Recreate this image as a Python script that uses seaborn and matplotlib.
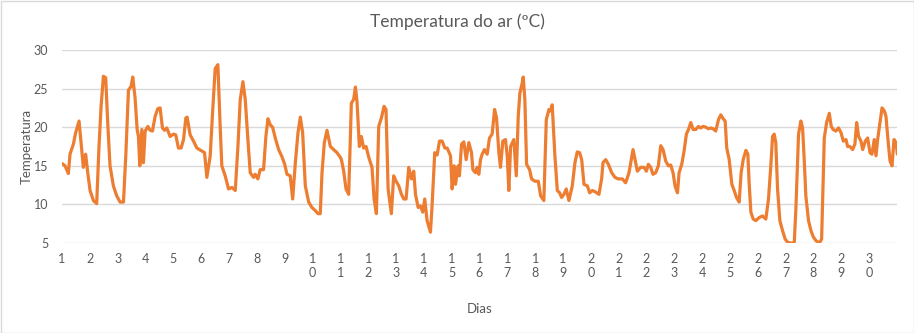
import matplotlib
matplotlib.use("Agg")
import matplotlib.pyplot as plt
import seaborn as sns
import pandas as pd
from matplotlib.patches import Rectangle

# hours since start of day 1, and air temperature (ºC)
horas = [
    0, 2.6, 5.5, 6.9, 9.8, 11.8, 14.7, 17.0, 18.4, 20.4, 22.2, 24.2, 27.1, 29.9, 31.9, 33.7,
    35.7, 37.7, 39.4, 41.4, 44.3, 47.2, 50.1, 53.0, 55.0, 57.3, 59.6, 61.0, 63.0, 64.8, 65.9,
    67.1, 68.8, 70.2, 71.7, 74.0, 76.0, 78.0, 80.3, 82.6, 84.6, 86.6, 88.4, 90.4, 93.2, 96.1,
    98.1, 100.4, 102.7, 104.8, 106.8, 107.9, 110.5, 113.4, 116.3,
    120.6, 122.9, 124.9, 127.8, 129.8, 132.1, 134.4, 136.4, 137.8, 140.7, 143.6, 146.5, 149.4,
    151.7, 153.7, 156.0, 158.0, 160.3, 162.3, 165.2, 166.6, 168.9, 170.9, 173.8, 175.8, 177.6,
    179.6, 181.6, 183.9, 186.8, 189.6, 192.0, 194.0, 196.8, 198.9, 201.2, 203.5, 205.5, 207.5,
    209.8, 212.7, 215.5, 218.4, 220.7, 222.7, 224.2, 226.2, 228.5, 231.4, 234.3, 237.1, 240.0,
    240.9, 242.9, 244.9, 247.2, 249.5, 251.5, 253.0, 254.4, 256.4, 258.1, 260.1, 262.2, 264.5,
    267.3, 269.1, 271.1, 273.1, 275.4, 277.7, 279.4, 281.2, 284.0, 286.0, 288.1, 290.4, 292.7,
    294.7, 296.7, 299.0, 301.3, 303.3, 304.8, 307.1, 309.1, 311.1, 312.8, 314.8, 317.7, 319.1,
    321.4, 323.5, 325.5, 327.8, 330.1, 332.1, 335.0, 336.4, 338.1, 339.3, 341.6, 342.7, 344.5,
    346.5, 348.5, 350.8, 353.1, 354.3, 356.6, 358.0, 359.4, 360.9,
    362.3, 364.3, 366.6, 368.6, 370.9, 373.0, 374.7, 376.7, 378.1, 380.1, 382.4, 383.9, 385.3,
    386.8, 389.6, 391.7, 393.4, 394.8, 396.8, 397.7, 399.1, 400.6, 403.2, 404.9, 407.8, 410.7,
    412.7, 415.5, 417.6, 419.9, 421.3, 422.7, 425.0, 427.1, 429.1, 430.8, 432.8, 434.8, 437.1,
    440.0, 442.3, 444.3, 446.3, 448.1, 450.1, 453.0, 455.0, 457.3, 460.2, 463.0, 465.3, 466.5,
    468.8, 471.1, 474.0, 476.8, 479.7,
    483.2, 486.0, 488.9, 490.4, 492.4, 494.1, 496.1, 499.0, 501.9, 503.9, 505.6, 507.6, 509.6,
    511.9, 514.2, 516.3, 518.3, 520.6, 522.9, 524.9, 526.9, 528.6, 530.7, 532.1, 534.4, 536.4,
    538.4, 540.2, 542.2, 544.2, 546.5, 548.8, 550.8, 552.8, 555.1, 557.4, 559.4, 561.4, 563.7,
    566.1, 568.1, 570.1, 571.8, 573.2, 575.3, 577.6, 579.6, 581.6, 583.9, 585.6, 587.4, 589.7,
    591.4, 592.5, 594.0, 596.0, 598.3,
    601.2, 604.0, 606.9, 609.2, 611.2, 612.7, 614.1, 615.5, 617.0, 619.0, 621.3, 623.6, 625.6,
    628.5, 631.4, 632.8, 635.1, 637.1, 638.6, 640.0, 641.4, 643.7, 645.8, 647.8, 650.1, 653.0,
    655.0, 657.3, 659.3, 661.6, 663.3, 665.0, 667.3, 669.6, 671.7, 673.7, 676.0, 677.4, 679.4,
    681.7, 683.7, 685.2, 686.9, 688.9, 690.4, 692.7, 694.7, 696.7, 698.4, 700.4, 701.9, 703.3,
    705.3, 707.1, 709.1, 710.5, 712.2, 714.0, 715.7, 717.4, 719.2, 720.3,
]
temperatura = [
    15.3, 15.0, 14.0, 16.5, 17.8, 19.3, 20.8, 17.0, 14.8, 16.5, 14.1, 11.8, 10.5, 10.1, 17.5, 22.7,
    26.6, 26.4, 20.6, 15.0, 12.4, 11.1, 10.3, 10.3, 16.3, 24.8, 25.3, 26.5, 23.8, 19.7, 18.8,
    15.0, 19.7, 15.4, 19.5, 20.1, 19.6, 19.5, 21.4, 22.4, 22.5, 19.9, 19.6, 19.9, 18.8, 19.1,
    19.0, 17.3, 17.3, 18.4, 21.2, 21.3, 19.0, 18.2, 17.3,
    16.9, 16.7, 13.5, 16.3, 21.8, 27.6, 28.1, 20.1, 15.0, 13.7, 12.0, 12.2, 11.8,
    17.5, 23.6, 25.9, 23.6, 18.4, 14.1, 13.5, 13.9, 13.3, 14.5, 14.5, 18.8, 21.1,
    20.3, 20.0, 18.6, 17.1, 16.2, 15.2, 13.9, 13.7, 10.7, 15.4, 19.3, 21.3, 19.3,
    12.4, 10.3, 9.6, 9.2, 8.8, 8.8, 14.1, 18.0, 19.6, 17.5, 17.1, 16.7, 16.1,
    15.8, 14.3, 12.0, 11.3, 23.1, 23.6, 25.2, 23.3, 17.5, 18.8, 17.3, 17.5, 16.1,
    14.8, 10.7, 8.8, 20.1, 21.2, 22.7, 22.3, 12.0, 8.8, 13.7, 13.0, 12.4, 11.3,
    10.7, 10.7, 14.8, 13.3, 14.3, 11.3, 9.6, 9.8, 9.0, 10.7, 7.9, 6.4, 9.8,
    16.7, 16.4, 18.2, 18.2, 17.3, 17.3, 16.3, 12.0, 15.0, 12.6, 15.0, 13.7, 17.8,
    18.1, 15.8, 18.0, 16.7, 14.5, 14.1, 14.8, 13.9, 15.8,
    16.5, 17.1, 16.5, 18.6, 19.1, 22.3, 21.2, 16.7, 14.8, 18.2, 18.4, 16.3, 11.8,
    17.5, 18.4, 13.7, 21.4, 24.4, 25.7, 26.5, 23.6, 15.2, 14.5, 13.3, 13.0, 13.0,
    11.1, 10.5, 21.0, 22.3, 22.1, 22.9, 16.3, 11.8, 11.5, 10.9, 11.3, 12.0, 10.5,
    12.4, 15.4, 16.8, 16.7, 15.8, 12.6, 12.4, 11.5, 11.8, 11.6, 11.3, 13.3, 15.4,
    15.8, 15.2, 14.1, 13.5, 13.3,
    13.3, 12.8, 14.1, 15.4, 17.1, 15.8, 14.3, 14.8, 14.8, 14.3, 15.2, 14.8, 13.9,
    14.1, 15.0, 17.6, 17.1, 15.6, 15.0, 15.1, 14.1, 12.4, 11.5, 14.1, 15.2, 16.9,
    19.1, 19.7, 20.6, 19.7, 19.7, 20.1, 19.9, 20.1, 20.0, 19.8, 19.9, 19.8, 19.5,
    21.0, 21.6, 21.1, 20.8, 17.3, 15.8, 12.6, 11.8, 10.9, 10.3, 14.1, 15.8, 17.0,
    16.5, 12.8, 9.0, 8.1, 7.9,
    8.3, 8.5, 8.1, 10.7, 15.0, 18.8, 19.1, 18.0, 12.0, 7.9, 6.6, 5.5, 5.1,
    5.0, 5.0, 9.4, 19.1, 20.8, 19.9, 15.8, 11.1, 7.9, 6.6, 5.8, 5.3, 5.0,
    5.5, 18.6, 20.6, 21.8, 20.1, 19.7, 19.5, 19.9, 19.3, 18.2, 18.4, 17.5, 17.5,
    17.1, 17.8, 20.6, 18.8, 18.2, 17.1, 18.2, 18.6, 16.7, 16.5, 18.4, 16.3, 18.4,
    20.6, 22.5, 22.1, 21.4, 18.4, 15.6, 15.0, 18.4, 18.0, 16.5,
]
dias = list(range(1, 31))
dias_labels = ["\n".join(str(d)) for d in dias]
y_ticks = [5, 10, 15, 20, 25, 30]

df = pd.DataFrame({"dia": [1 + h / 24 for h in horas], "temp": temperatura})

sns.set_style("white")
plt.rcParams["font.family"] = ["Lato", "DejaVu Sans"]

TXT = "#595959"
GRID = "#d9d9d9"
ORANGE = "#ED7D31"

fig = plt.figure(figsize=(9.14, 3.33), dpi=100)
ax = fig.add_axes([62 / 914, 1 - 243 / 333, (897 - 62) / 914, (243 - 50) / 333])

sns.lineplot(data=df, x="dia", y="temp", ax=ax, color=ORANGE, linewidth=2.3,
             estimator=None, sort=False, solid_joinstyle="round",
             solid_capstyle="round")

ax.set_xlim(1, 31)
ax.set_ylim(5, 30)
ax.set_yticks(y_ticks)
ax.set_yticklabels([str(v) for v in y_ticks])
ax.set_xticks(dias)
ax.set_xticklabels(dias_labels, linespacing=1.25)
ax.yaxis.grid(True, color=GRID, linewidth=1)
ax.xaxis.grid(False)
for s in ax.spines.values():
    s.set_visible(False)
ax.tick_params(axis="both", length=0, colors=TXT, labelsize=9)
ax.tick_params(axis="y", pad=10)
ax.tick_params(axis="x", pad=7)
for lbl in ax.get_xticklabels():
    lbl.set_verticalalignment("top")

ax.set_xlabel("Dias", color=TXT, fontsize=9.5, labelpad=0)
ax.xaxis.set_label_coords(0.5, -(309 - 243) / 193, transform=ax.transAxes)
ax.set_ylabel("Temperatura", color=TXT, fontsize=9.5)
ax.yaxis.set_label_coords((27 - 62) / 835, 0.5, transform=ax.transAxes)
ax.xaxis.label.set_verticalalignment("center")
ax.yaxis.label.set_verticalalignment("center")

fig.text(0.5, 1 - 22 / 333, "Temperatura do ar (ºC)", ha="center", va="center",
         color=TXT, fontsize=12.5)

fig.patches.append(Rectangle((0.5 / 914, 0.5 / 333), 1 - 1 / 914, 1 - 1 / 333,
                             transform=fig.transFigure, fill=False,
                             edgecolor=GRID, linewidth=1))

fig.savefig("out.png", dpi=100)
